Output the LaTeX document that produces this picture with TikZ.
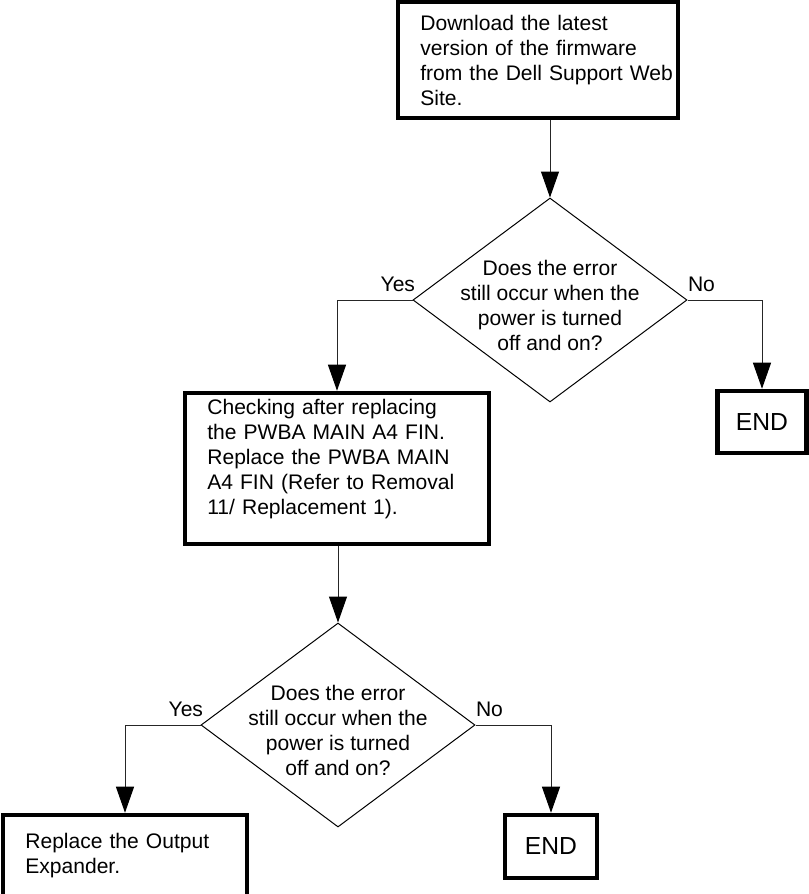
\documentclass[tikz,border=0pt]{standalone}
\usepackage{fontspec}
\setmainfont{Liberation Sans}
\usetikzlibrary{shapes.geometric,arrows.meta}
\begin{document}
\begin{tikzpicture}[x=0.75pt, y=-0.75pt,
  every node/.style={font=\fontsize{15.8}{18.75}\selectfont},
  stepbox/.style={rectangle, draw, line width=3.4pt, inner xsep=0pt, inner ysep=3pt,
    align=left, execute at begin node={\leftskip=16.75pt}},
  decision/.style={diamond, draw, line width=0.75pt, align=center, inner sep=-20pt,
    minimum width=205.5pt, minimum height=153pt},
  endbox/.style={rectangle, draw, line width=3.4pt, font=\fontsize{18.5}{22}\selectfont},
  lbl/.style={inner xsep=0pt, inner ysep=6pt},
  flow/.style={draw=black!85, line width=0.75pt, -{Triangle[length=19.5pt, width=13.5pt, color=black]}}]
  \useasboundingbox (0,0) rectangle (809,894);

  % First check
  \node[stepbox, text width=210pt, minimum height=87pt] (dl) at (538,60)
    {Download the latest\\version of the firmware\\from the Dell Support Web\\Site.};
  \node[decision] (q1) at (550,300)
    {\rule{0pt}{19pt}Does the error\\still occur when the\\power is turned\\off and on?};
  \node[endbox, minimum width=66.75pt, minimum height=46.5pt] (end1) at (762,422) {END};

  % Second check
  \node[stepbox, text width=228pt, minimum height=113.25pt] (chk) at (337,468.5)
    {Checking after replacing\\the PWBA MAIN A4 FIN.\\Replace the PWBA MAIN\\A4 FIN (Refer to Removal\\11/ Replacement 1).\rule[-17pt]{0pt}{0pt}};
  \node[decision] (q2) at (338,725)
    {\rule{0pt}{20pt}Does the error\\still occur when the\\power is turned\\off and on?};
  \node[stepbox, text width=183pt, minimum height=61.5pt] (rep) at (125,856)
    {Replace the Output\\Expander.};
  \node[endbox, minimum width=69pt, minimum height=47.25pt] (end2) at (551,846.5) {END};

  \draw[flow] (dl.south -| q1.north) -- (q1.north);
  \draw[flow] (q1.west) node[lbl, anchor=south east, xshift=2.25pt] (yes1) {Yes} -| (chk.north);
  \draw[flow] (q1.east) node[lbl, anchor=south west] (no1) {No} -| (end1.north);
  \draw[flow] (chk.south -| q2.north) -- (q2.north);
  \draw[flow] (q2.west) node[lbl, anchor=south east, xshift=2.25pt] (yes2) {Yes} -| (rep.north);
  \draw[flow] (q2.east) node[lbl, anchor=south west] (no2) {No} -| (end2.north);
\end{tikzpicture}
\end{document}
